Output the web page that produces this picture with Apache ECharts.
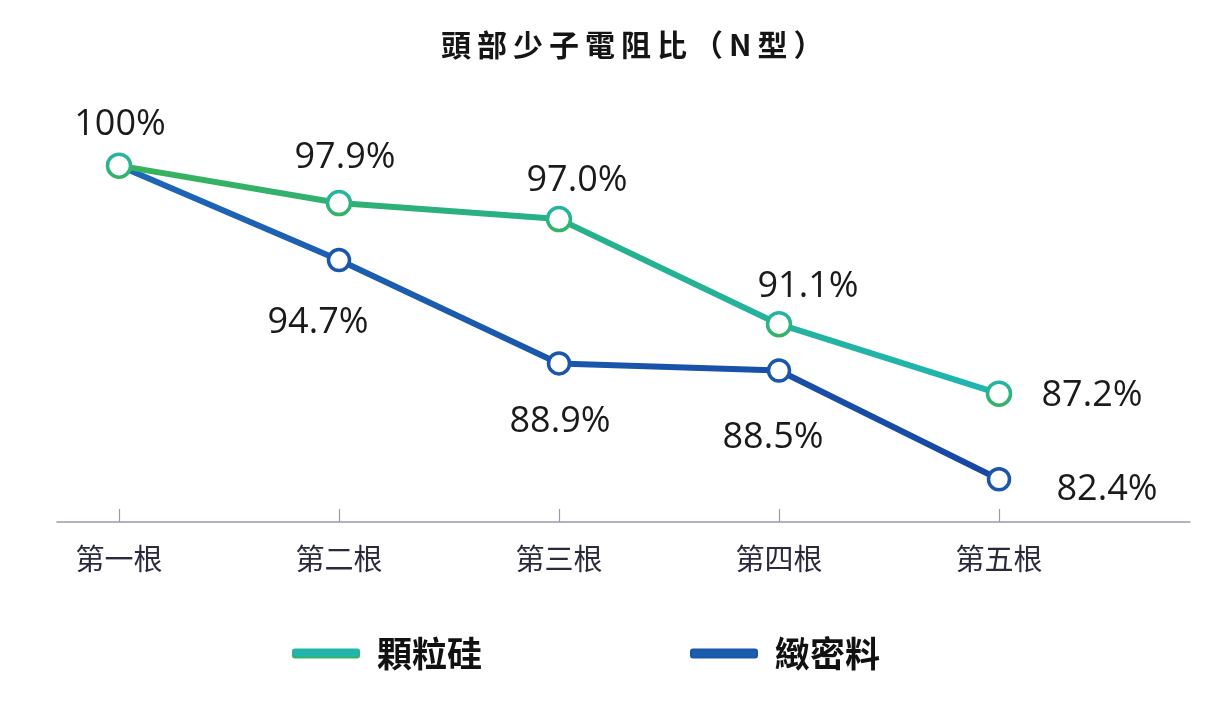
<!DOCTYPE html>
<html><head><meta charset="utf-8">
<script src="https://cdn.jsdelivr.net/npm/echarts@6/dist/echarts.min.js"></script>
<style>html,body{margin:0;padding:0;background:#fff}#c{width:1206px;height:704px}</style>
</head><body><div id="c"></div>
<script>
const categories = ['第一根','第二根','第三根','第四根','第五根'];
const seriesNames = ['顆粒硅','緻密料'];
const granular = [100, 97.9, 97.0, 91.1, 87.2];
const dense = [100, 94.7, 88.9, 88.5, 82.4];

const greenOffsets = [[1,-41],[6,-45],[18,-38],[29,-37],[93,2]];
const blueOffsets = [null,[-21,63],[1,58],[-6,67],[108,11]];

function build(vals, offs) {
  return vals.map((v, i) => {
    const item = { value: [i, v] };
    if (offs[i]) item.label = { show: true, position: 'inside', offset: offs[i] };
    else item.label = { show: false };
    return item;
  });
}

const chart = echarts.init(document.getElementById('c'), null, {renderer:'canvas'});
const labelStyle = {
  formatter: p => (p.value[1] === 100 ? '100' : p.value[1].toFixed(1)) + '%',
  fontFamily: '"Open Sans", sans-serif', fontSize: 36, color: '#1a1a1a'
};
chart.setOption({
  animation: false,
  backgroundColor: '#fff',
  title: {
    text: '頭\u2009部\u2009少\u2009子\u2009電\u2009阻\u2009比\u2009（\u2009N\u2009型\u2009）',
    left: 436, top: 25,
    textStyle: { fontFamily: '"Noto Sans CJK TC", sans-serif', fontWeight: 'bold', fontSize: 30, color: '#151515' }
  },
  legend: {
    left: 287, top: 631, itemWidth: 66, itemHeight: 8, itemGap: 208, icon: 'roundRect',
    textStyle: { fontFamily: '"Noto Sans CJK TC", sans-serif', fontWeight: 'bold', fontSize: 35, color: '#111', padding: [0,0,0,13] },
    data: [
      { name: seriesNames[0], itemStyle: { color: '#22b5b0' } },
      { name: seriesNames[1], itemStyle: { color: '#1b5eae' } }
    ]
  },
  grid: { left: 57, right: 16, top: 130, bottom: 182 },
  xAxis: {
    type: 'value', min: (57-119)/220, max: (1190-119)/220,
    splitLine: { show: false },
    axisLine: { show: true, lineStyle: { color: '#9a9aaa', width: 1.5 } },
    axisTick: { show: true, inside: true, length: 13, customValues: [0,1,2,3,4], lineStyle: { color: '#9a9aaa', width: 1.2 } },
    axisLabel: { customValues: [0,1,2,3,4], formatter: v => categories[Math.round(v)], margin: 22,
      fontFamily: '"Noto Sans CJK TC", sans-serif', fontSize: 29, color: '#2a2a3c' }
  },
  yAxis: { type: 'value', min: 80, max: 102, show: false, splitLine: { show: false } },
  series: [
    {
      name: seriesNames[1], type: 'line', data: build(dense, blueOffsets), z: 2,
      symbol: 'circle', symbolSize: 21,
      lineStyle: { width: 6, color: { type: 'linear', x:0, y:0, x2:1, y2:0, colorStops: [{offset:0,color:'#1e66b6'},{offset:1,color:'#1748a2'}] } },
      itemStyle: { color: '#fff', borderColor: '#1a56aa', borderWidth: 3.5 },
      label: labelStyle
    },
    {
      name: seriesNames[0], type: 'line', data: build(granular, greenOffsets), z: 3,
      symbol: 'circle', symbolSize: 23,
      lineStyle: { width: 6, color: { type: 'linear', x:0, y:0, x2:1, y2:0, colorStops: [{offset:0,color:'#38b25a'},{offset:0.5,color:'#27b08a'},{offset:1,color:'#1fb5b2'}] } },
      itemStyle: { color: '#fff', borderColor: { type: 'linear', x:0, y:0, x2:0, y2:1, colorStops: [{offset:0,color:'#22b5a8'},{offset:1,color:'#36b260'}] }, borderWidth: 3.5 },
      label: labelStyle
    }
  ]
});
</script></body></html>
